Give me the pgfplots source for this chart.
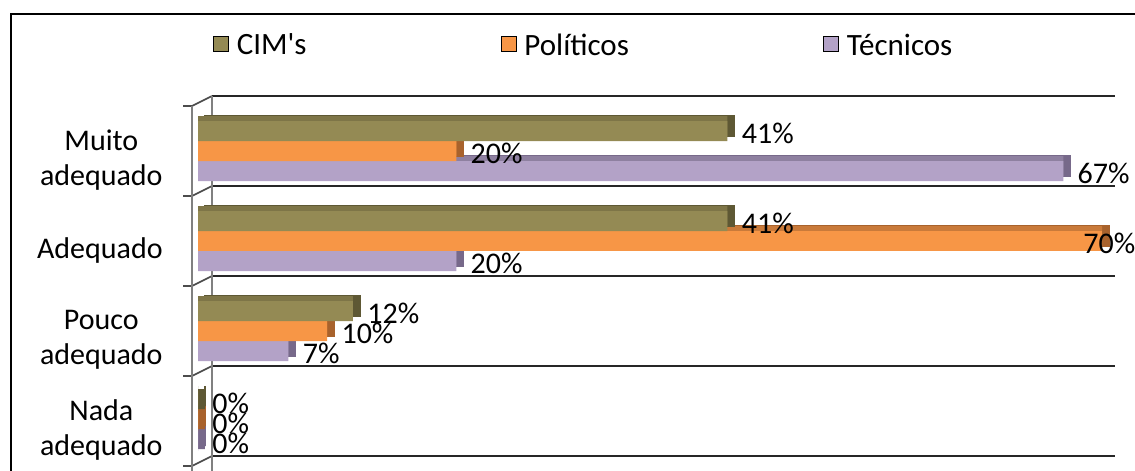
\documentclass[border=0pt]{standalone}
\usepackage{fontspec}
\setmainfont{Carlito}
\newfontfamily\plainquote{Carlito}% no TeX mapping, keeps a straight apostrophe
\usepackage{pgfplots}
\pgfplotsset{compat=1.18}
\usepackage{pgfplotstable}

% bar colours: front face, top face, end face
\definecolor{cimF}{HTML}{948A54}
\definecolor{cimT}{HTML}{7E7547}
\definecolor{cimE}{HTML}{5E5834}
\definecolor{polF}{HTML}{F79646}
\definecolor{polT}{HTML}{C97A3A}
\definecolor{polE}{HTML}{A8622C}
\definecolor{tecF}{HTML}{B3A2C7}
\definecolor{tecT}{HTML}{8E80A0}
\definecolor{tecE}{HTML}{77698A}

\newcommand\lbl{\fontsize{15}{17.5}\selectfont}
\newcommand\leg{\fontsize{15.5}{18}\selectfont}

% cat: 0 = Nada, 1 = Pouco, 2 = Adequado, 3 = Muito adequado
\pgfplotstableread{
cat val
0 0
1 12
2 41
3 41
}\cimdata
\pgfplotstableread{
cat val
0 0
1 10
2 70
3 20
}\poldata
\pgfplotstableread{
cat val
0 0
1 7
2 20
3 67
}\tecdata

\pgfplotsset{
  depthface/.style={forget plot, draw=#1, line width=0.8pt, fill=#1, xshift=3.5pt, yshift=2.5pt},
  % a zero-length bar only shows its end face
  zeroface/.style={forget plot, draw=#1, line width=3.5pt, fill=#1, xshift=1.75pt, yshift=1pt,
    restrict x to domain=-1:0.5},
  topface/.style={forget plot, draw=none, fill=#1, yshift=2.5pt},
  frontface/.style={forget plot, draw=none, fill=#1, point meta=x,
    nodes near coords={\pgfmathprintnumber{\pgfplotspointmeta}\%},
    every node near coord/.append style={font=\lbl, text=black, inner sep=0pt,
      anchor=west, xshift=7pt, yshift=-1pt}},
}

\begin{document}
\begin{tikzpicture}
% outer frame
\draw[line width=1pt] (5.5pt,-240pt) -- (5.5pt,-7pt) -- (575pt,-7pt);

\begin{axis}[
  at={(99pt,-233pt)}, anchor=south west,
  width=452pt, height=180pt, scale only axis,
  xmin=0, xmax=70, ymin=-0.5, ymax=3.5,
  xbar, bar width=10pt,
  clip=false,
  axis line style={draw=none},
  xtick=\empty,
  ytick={0,1,2,3},
  yticklabels={{Nada\\adequado},{Pouco\\adequado},{Adequado},{Muito\\adequado}},
  major tick length=0pt,
  yticklabel style={align=center, anchor=east, inner sep=0pt, xshift=-17.5pt, yshift=-4.5pt, font=\lbl},
  /pgf/number format/assume math mode=true,
  legend columns=3,
  legend style={at={(axis description cs:0.0166,1.1667)}, anchor=west,
    draw=none, fill=none, inner sep=0pt, outer sep=0pt, font=\leg,
    /tikz/every odd column/.append style={column sep=4pt},
    /tikz/every even column/.append style={column sep=97pt},
    cells={anchor=west}, nodes={inner sep=0pt}},
  legend image code/.code={\fill[#1] (0pt,-2.5pt) rectangle (7.5pt,5pt);},
]
\addlegendimage{fill=cimF}\addlegendentry{CIM{\plainquote'}s}
\addlegendimage{fill=polF}\addlegendentry{Políticos}
\addlegendimage{fill=tecF}\addlegendentry{Técnicos}

% walls, grid lines and ticks of the 3-D frame
\pgfplotsinvokeforeach{-0.5,0.5,1.5,2.5,3.5}{
  \draw[black!85, line width=1pt] ([xshift=7pt,yshift=5pt]axis cs:0,#1) -- ([xshift=6.5pt,yshift=5pt]axis cs:70,#1);
  \draw[gray!60!black, line width=0.8pt] ([xshift=-3pt]axis cs:0,#1) -- ([xshift=7pt,yshift=5pt]axis cs:0,#1);
  \draw[gray!60!black, line width=0.8pt] ([xshift=-7.5pt]axis cs:0,#1) -- ([xshift=-3pt]axis cs:0,#1);
}
\draw[gray, line width=0.8pt] ([xshift=-3pt]axis cs:0,3.5) -- ([xshift=-3pt,yshift=-10pt]axis cs:0,-0.5);
\draw[gray, line width=0.8pt] ([xshift=7pt,yshift=5pt]axis cs:0,3.5) -- ([xshift=7pt,yshift=-10pt]axis cs:0,-0.5);

% Técnicos
\addplot[depthface=tecE, bar shift=-10pt] table[x=val,y=cat] {\tecdata};
\addplot[zeroface=tecE, bar shift=-10pt] table[x=val,y=cat] {\tecdata};
\addplot[topface=tecT, bar shift=-10pt] table[x=val,y=cat] {\tecdata};
\addplot[frontface=tecF, bar shift=-10pt] table[x=val,y=cat] {\tecdata};
% Políticos (the longest bar keeps its label inside the chart edge)
\addplot[depthface=polE, bar shift=0pt] table[x=val,y=cat] {\poldata};
\addplot[zeroface=polE, bar shift=0pt] table[x=val,y=cat] {\poldata};
\addplot[topface=polT, bar shift=0pt] table[x=val,y=cat] {\poldata};
\addplot[frontface=polF, bar shift=0pt, restrict x to domain=-1:60] table[x=val,y=cat] {\poldata};
\addplot[frontface=polF, bar shift=0pt, restrict x to domain=60:100,
  every node near coord/.append style={xshift=-16.5pt}] table[x=val,y=cat] {\poldata};
% CIM's
\addplot[depthface=cimE, bar shift=10pt] table[x=val,y=cat] {\cimdata};
\addplot[zeroface=cimE, bar shift=10pt] table[x=val,y=cat] {\cimdata};
\addplot[topface=cimT, bar shift=10pt] table[x=val,y=cat] {\cimdata};
\addplot[frontface=cimF, bar shift=10pt] table[x=val,y=cat] {\cimdata};
\end{axis}
\pgfresetboundingbox
\useasboundingbox (0,0) rectangle (567.5pt,-235.5pt);
\end{tikzpicture}
\end{document}
